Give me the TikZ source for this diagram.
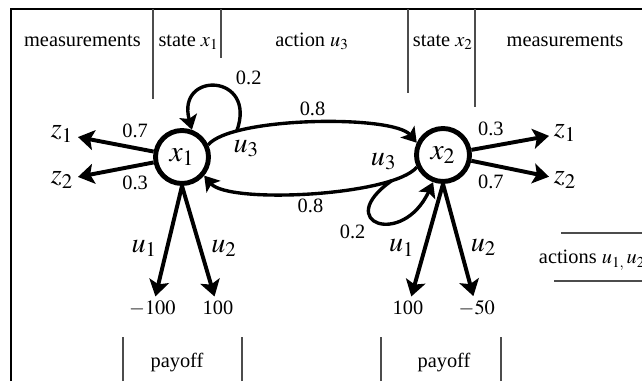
\documentclass[tikz,border=0pt]{standalone}
\usepackage{mathptmx}
\usepackage{fontspec}
\setmainfont{Liberation Serif}
\usetikzlibrary{arrows.meta}

\begin{document}
\begin{tikzpicture}[auto,
    font=\fontsize{14.5}{17}\selectfont,
    state/.style={circle, draw, line width=3.5pt, minimum size=1.325cm, inner sep=0pt, font=\fontsize{21}{23}\selectfont},
    sym/.style={font=\fontsize{20}{22}\selectfont},
    arr/.style={line width=2.8pt, -{Stealth[length=4mm, width=5mm, inset=0.9mm]}},
    trans/.style={line width=2.4pt, -{Stealth[length=3.6mm, width=4.5mm, inset=0.8mm]}},
    divider/.style={line width=0.8pt, black!70}]

    \useasboundingbox (0,0) rectangle (16.05,9.525);
    \clip (0,0) rectangle (16.05,9.525);

    \draw [line width=1pt] (0.275,0) -- (0.275,9.3) -- (16.05,9.3);
    \draw [divider] (3.825,9.3) -- (3.825,7.05);
    \draw [divider] (5.525,9.3) -- (5.525,8.075);
    \draw [divider] (10.2,9.3) -- (10.2,7.2);
    \draw [divider] (11.875,9.3) -- (11.875,6.85);
    \draw [divider] (3.075,0) -- (3.075,1.1);
    \draw [divider] (6.05,0) -- (6.05,1.1);
    \draw [divider] (9.525,0) -- (9.525,1.1);
    \draw [divider] (12.525,0) -- (12.525,1.1);
    \draw [divider] (14.025,3.7) -- (16.05,3.7);
    \draw [divider] (13.85,2.5) -- (16.05,2.5);

    \node (ha) [anchor=base] at (2.06, 8.36) {measurements};
    \node (hb) [anchor=base] at (4.71, 8.36) {state $x_1$};
    \node (hc) [anchor=base] at (7.8, 8.36) {action $u_3$};
    \node (hd) [anchor=base] at (11.07, 8.36) {state $x_2$};
    \node (he) [anchor=base] at (14.125, 8.36) {measurements};
    \node (pa) [anchor=base] at (4.425, 0.325) {payoff};
    \node (pb) [anchor=base] at (11.1, 0.325) {payoff};
    \node (ac) [anchor=base west] at (13.35, 2.925) {actions $u_{1,}\,u_2$};

    \node (x1) [state] at (4.55, 5.6) {$x_1$};
    \node (x2) [state] at (11.075, 5.65) {$x_2$};
    \node (za) [sym] at (1.55, 6.175) {$z_1$};
    \node (zb) [sym] at (1.55, 5.025) {$z_2$};
    \node (zc) [sym] at (14.125, 6.2) {$z_1$};
    \node (zd) [sym] at (14.125, 5.025) {$z_2$};
    \node (va) [anchor=base] at (3.81, 1.65) {$-100$};
    \node (vb) [anchor=base] at (5.45, 1.65) {100};
    \node (vc) [anchor=base] at (10.2, 1.65) {100};
    \node (vd) [anchor=base] at (11.92, 1.65) {$-50$};

    \draw [arr] (x1) to node[swap] {0.7} (za);
    \draw [arr] (x1) to node {0.3} (zb);
    \draw [arr] (x2) to node {0.3} (zc);
    \draw [arr] (x2) to node[swap] {0.7} (zd);
    \draw [arr] (x1.south) to node[swap, sym, pos=0.7] {$u_1$} (va);
    \draw [arr] (x1.south) to node[sym, pos=0.7] {$u_2$} (vb);
    \draw [arr] (x2.south) to node[swap, sym, pos=0.7] {$u_1$} (vc);
    \draw [arr] (x2.south) to node[sym, pos=0.7] {$u_2$} (vd);

    \draw [trans] (x1.25) to[out=50, in=130, looseness=0.45] node {0.8} node[swap, sym, pos=0.15] {$u_3$} coordinate[pos=0.2] (b1) (x2.155);
    \draw [trans] (x2.205) to[out=-130, in=-50, looseness=0.45] node {0.8} node[swap, sym, pos=0.12] {$u_3$} coordinate[pos=0.18] (b2) (x1.-40);
    \draw [trans] (b1) to[out=70, in=105, looseness=3.5] node[pos=0.35, above right] {0.2} (x1.70);
    \draw [trans] (b2) to[out=215, in=245, looseness=4.5] node[pos=0.4, below left] {0.2} (x2.250);

\end{tikzpicture}
\end{document}
